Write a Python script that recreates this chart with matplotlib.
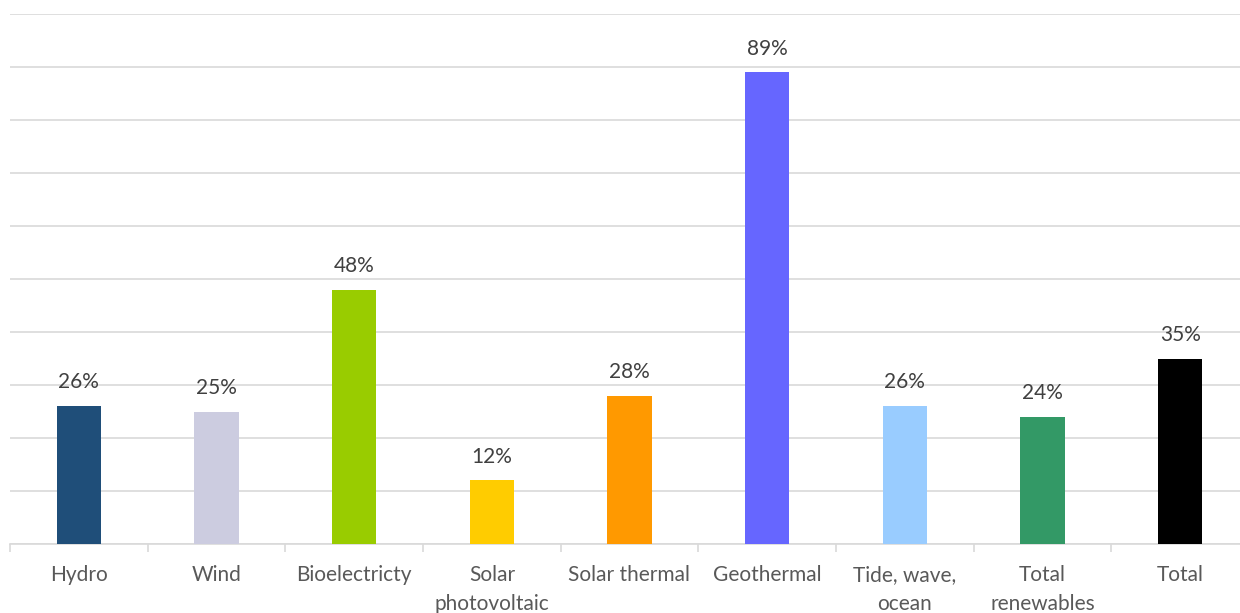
import numpy as np
import matplotlib.pyplot as plt
from matplotlib.ticker import FixedLocator

# data
categories = ['Hydro', 'Wind', 'Bioelectricty', 'Solar\nphotovoltaic', 'Solar thermal',
              'Geothermal', 'Tide, wave,\nocean', 'Total\nrenewables', 'Total']
values = [26, 25, 48, 12, 28, 89, 26, 24, 35]
colors = ['#1F4E79', '#CCCCE0', '#99CC00', '#FFCC00', '#FF9900',
          '#6666FF', '#99CCFF', '#339966', '#000000']

plt.rcParams['font.family'] = ['Lato', 'DejaVu Sans']

W, H = 1240, 613
fig = plt.figure(figsize=(W / 100, H / 100), dpi=100)
ax = fig.add_axes([10 / W, (H - 544) / H, (1249 - 10) / W, (544 - 14) / H])

x = np.arange(len(categories))
bars = ax.bar(x, values, width=0.32, color=colors, zorder=3)

for b, v in zip(bars, values):
    ax.text(b.get_x() + b.get_width() / 2, v + 2.6, f'{v}%', ha='center', va='bottom',
            fontsize=15, color='#404040')

ax.set_xlim(-0.5, len(categories) - 0.5)
ax.set_ylim(0, 100)
ax.set_yticks(np.arange(0, 101, 10))
ax.yaxis.grid(True, color='#D9D9D9', linewidth=1.2, zorder=0)
ax.tick_params(axis='y', left=False, labelleft=False)

ax.set_xticks(x)
ax.set_xticklabels(categories, fontsize=15, color='#595959', linespacing=1.55, va='top')
ax.tick_params(axis='x', which='major', length=0, pad=15)
ax.xaxis.set_minor_locator(FixedLocator(np.arange(-0.5, len(categories), 1)))
ax.tick_params(axis='x', which='minor', length=6, color='#D9D9D9', width=1.2)

for s in ['top', 'right', 'left']:
    ax.spines[s].set_visible(False)
ax.spines['bottom'].set_color('#D9D9D9')
ax.spines['bottom'].set_linewidth(1.2)

fig.savefig('out.png', dpi=100)
